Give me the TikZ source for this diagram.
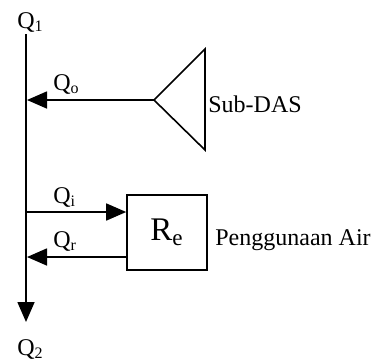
\documentclass[tikz,border=0pt]{standalone}
\usepackage{fontspec}
\setmainfont{Liberation Serif}
\usetikzlibrary{arrows.meta, positioning}

\tikzset{
  flow/.style={line width=0.8pt, -{Triangle[length=10pt,width=8.5pt]}},
  lbl/.style={inner sep=0pt, anchor=base west, font=\fontsize{12}{14}\selectfont},
  usebox/.style={draw, line width=0.8pt, minimum width=40pt, minimum height=37.5pt, inner sep=0pt}
}

\begin{document}
\begin{tikzpicture}[x=0.5pt, y=-0.5pt]
  \useasboundingbox (0,0) rectangle (379,360);

  % main river line, Q1 in and Q2 out
  \coordinate (top) at (26,34);
  \coordinate (bottom) at (26,322);
  \coordinate (jo) at (27,100);
  \coordinate (ji) at (26,212);
  \coordinate (jr) at (27,257);
  \node[lbl] (q1) at (17,28) {Q\textsubscript{1}};
  \node[lbl] (q2) at (17,355) {Q\textsubscript{2}};
  \draw[flow] (top) -- (bottom);

  % sub-catchment inflow
  \coordinate (apex) at (154,100);
  \coordinate (tritop) at (205,49);
  \coordinate (tribot) at (205,150);
  \draw[line width=0.8pt] (tritop) -- (apex) -- (tribot) -- cycle;
  \node[lbl] (subdas) at (208,112) {Sub-DAS};
  \draw[flow] (apex) -- (jo);
  \node[lbl] (qo) at (53,90) {Q\textsubscript{o}};

  % water use, intake and return
  \node[usebox, font=\fontsize{16.5}{18}\selectfont] (re) at (167,232.5) {R\textsubscript{e}};
  \node[lbl] (use) at (215,245) {Penggunaan Air};
  \draw[flow] (ji) -- (ji -| re.west);
  \node[lbl] (qi) at (53,203) {Q\textsubscript{i}};
  \draw[flow] (jr -| re.west) -- (jr);
  \node[lbl] (qr) at (53,247) {Q\textsubscript{r}};
\end{tikzpicture}
\end{document}
